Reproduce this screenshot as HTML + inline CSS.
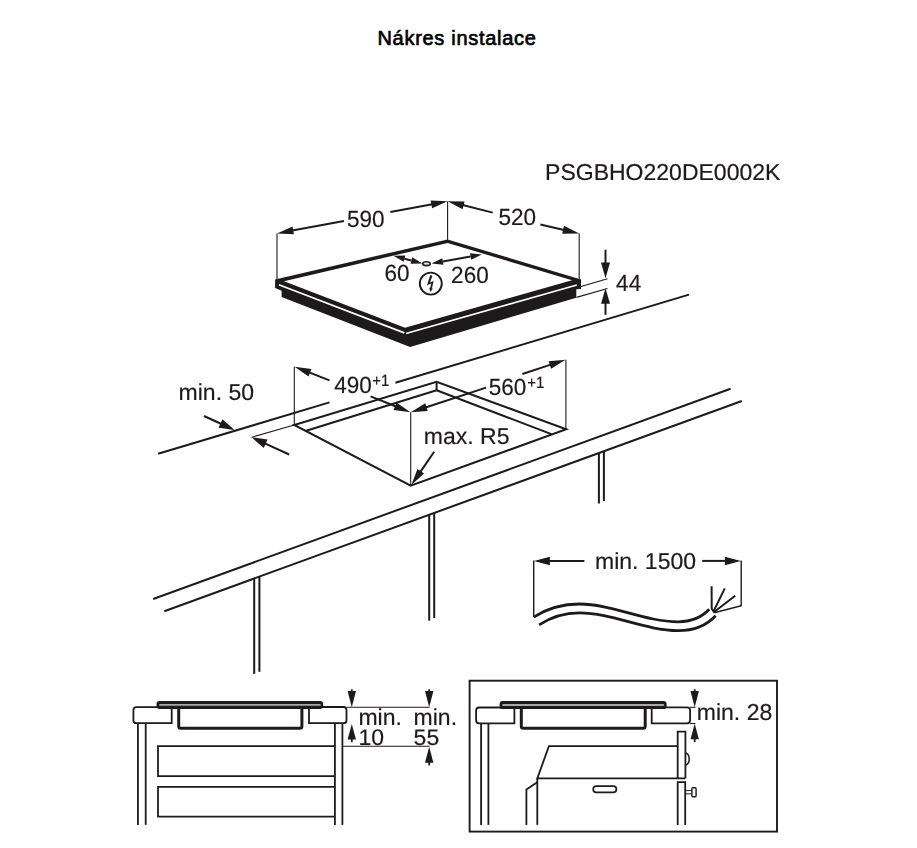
<!DOCTYPE html>
<html lang="cs">
<head>
<meta charset="utf-8">
<title>Nákres instalace</title>
<style>
html,body{margin:0;padding:0;background:#fff;}
body{width:917px;height:848px;overflow:hidden;position:relative;font-family:"Liberation Sans",sans-serif;}
h1{position:absolute;left:0;top:26px;width:917px;margin:0;text-align:center;font-family:"Liberation Sans",sans-serif;font-weight:normal;-webkit-text-stroke:0.65px #000;font-size:20px;line-height:24px;color:#000;letter-spacing:0.7px;transform:translateX(-1.5px);}
svg{position:absolute;left:0;top:0;display:block;filter:blur(0.45px);}
svg text{font-family:"Liberation Sans",sans-serif;fill:#1e1a1b;stroke:#1e1a1b;stroke-width:0.18px;text-rendering:geometricPrecision;}
</style>
</head>
<body>
<h1>Nákres instalace</h1>
<svg width="917" height="848" viewBox="0 0 917 848">
<text transform="translate(545.10,179.90)" font-size="23" text-anchor="start" >PSGBHO220DE0002K</text>
<line x1="277.00" y1="233.40" x2="277.00" y2="280.00" stroke="#1e1a1b" stroke-width="1.1" stroke-linecap="butt"/>
<line x1="447.60" y1="201.30" x2="447.60" y2="240.50" stroke="#1e1a1b" stroke-width="1.1" stroke-linecap="butt"/>
<line x1="579.20" y1="233.40" x2="579.20" y2="280.00" stroke="#1e1a1b" stroke-width="1.1" stroke-linecap="butt"/>
<polygon points="275.10,279.50 447.60,239.40 581.00,279.50 581.00,288.90 576.30,289.30 576.30,297.70 410.10,346.90 281.60,296.90 281.60,290.70 275.10,288.00" fill="#1e1a1b"/>
<polygon points="284.00,281.20 447.60,242.90 572.00,280.20 405.00,327.80" fill="#fff"/>
<line x1="278.90" y1="284.80" x2="404.30" y2="332.90" stroke="#fff" stroke-width="1.7" stroke-linecap="butt"/>
<line x1="406.00" y1="333.50" x2="576.80" y2="285.00" stroke="#fff" stroke-width="1.7" stroke-linecap="butt"/>
<polygon points="277.00,233.40 292.49,226.44 293.95,234.31" fill="#1e1a1b"/>
<line x1="344.00" y1="220.90" x2="292.24" y2="230.56" stroke="#1e1a1b" stroke-width="2.0" stroke-linecap="butt"/>
<polygon points="447.60,201.30 432.13,208.29 430.64,200.43" fill="#1e1a1b"/>
<line x1="390.40" y1="212.10" x2="432.37" y2="204.18" stroke="#1e1a1b" stroke-width="2.0" stroke-linecap="butt"/>
<text transform="translate(365.70,227.40) scale(0.98,1.02)" font-size="23" text-anchor="middle" >590</text>
<polygon points="447.60,201.30 464.58,201.43 462.63,209.19" fill="#1e1a1b"/>
<line x1="492.70" y1="212.60" x2="462.64" y2="205.07" stroke="#1e1a1b" stroke-width="2.0" stroke-linecap="butt"/>
<polygon points="579.20,233.40 562.22,233.65 563.99,225.85" fill="#1e1a1b"/>
<line x1="540.40" y1="224.60" x2="564.08" y2="229.97" stroke="#1e1a1b" stroke-width="2.0" stroke-linecap="butt"/>
<text transform="translate(517.30,224.90) scale(0.98,1.02)" font-size="23" text-anchor="middle" >520</text>
<ellipse cx="426.5" cy="263.7" rx="3.7" ry="1.9" fill="#e4e4e4" stroke="#1e1a1b" stroke-width="1.6"/>
<polygon points="393.40,255.80 405.35,255.56 403.71,261.85" fill="#1e1a1b"/>
<polygon points="422.50,263.40 410.55,263.64 412.19,257.35" fill="#1e1a1b"/>
<line x1="404.53" y1="258.71" x2="411.37" y2="260.49" stroke="#1e1a1b" stroke-width="2.0" stroke-linecap="butt"/>
<polygon points="431.50,263.60 442.23,258.34 443.40,264.73" fill="#1e1a1b"/>
<polygon points="481.90,254.40 471.17,259.66 470.00,253.27" fill="#1e1a1b"/>
<line x1="442.81" y1="261.53" x2="470.59" y2="256.47" stroke="#1e1a1b" stroke-width="2.0" stroke-linecap="butt"/>
<text transform="translate(397.00,281.10) scale(0.98,1.02)" font-size="23" text-anchor="middle" >60</text>
<text transform="translate(469.90,282.50) scale(0.98,1.02)" font-size="23" text-anchor="middle" >260</text>
<circle cx="430.8" cy="283.6" r="11.0" fill="none" stroke="#1e1a1b" stroke-width="1.9"/>
<polygon points="430.30,275.00 432.40,275.70 430.00,282.50 433.60,280.90 431.90,288.50 430.20,288.10 431.30,283.40 427.00,285.30" fill="#1e1a1b"/>
<polygon points="429.20,287.70 432.80,288.60 430.50,292.00" fill="#1e1a1b"/>
<polygon points="605.50,278.20 601.00,262.60 610.00,262.60" fill="#1e1a1b"/>
<line x1="605.50" y1="249.70" x2="605.50" y2="263.60" stroke="#1e1a1b" stroke-width="2.0" stroke-linecap="butt"/>
<polygon points="605.50,288.20 610.00,303.80 601.00,303.80" fill="#1e1a1b"/>
<line x1="605.50" y1="314.80" x2="605.50" y2="302.80" stroke="#1e1a1b" stroke-width="2.0" stroke-linecap="butt"/>
<line x1="581.00" y1="286.50" x2="607.50" y2="278.70" stroke="#1e1a1b" stroke-width="1.1" stroke-linecap="butt"/>
<line x1="576.50" y1="297.40" x2="607.50" y2="288.50" stroke="#1e1a1b" stroke-width="1.1" stroke-linecap="butt"/>
<text transform="translate(616.10,291.20) scale(0.98,1.02)" font-size="23" text-anchor="start" >44</text>
<line x1="158.10" y1="453.80" x2="329.50" y2="402.40" stroke="#1e1a1b" stroke-width="2.0" stroke-linecap="butt"/>
<line x1="395.40" y1="382.70" x2="689.00" y2="294.60" stroke="#1e1a1b" stroke-width="2.0" stroke-linecap="butt"/>
<line x1="153.20" y1="599.00" x2="730.60" y2="388.70" stroke="#1e1a1b" stroke-width="2.0" stroke-linecap="butt"/>
<line x1="164.30" y1="611.20" x2="741.80" y2="401.00" stroke="#1e1a1b" stroke-width="2.0" stroke-linecap="butt"/>
<line x1="254.20" y1="578.48" x2="254.20" y2="673.90" stroke="#1e1a1b" stroke-width="2.0" stroke-linecap="butt"/>
<line x1="259.40" y1="576.59" x2="259.40" y2="671.80" stroke="#1e1a1b" stroke-width="2.0" stroke-linecap="butt"/>
<line x1="429.20" y1="514.78" x2="429.20" y2="620.70" stroke="#1e1a1b" stroke-width="2.0" stroke-linecap="butt"/>
<line x1="434.20" y1="512.96" x2="434.20" y2="618.10" stroke="#1e1a1b" stroke-width="2.0" stroke-linecap="butt"/>
<line x1="598.90" y1="453.01" x2="598.90" y2="503.50" stroke="#1e1a1b" stroke-width="2.0" stroke-linecap="butt"/>
<line x1="603.90" y1="451.19" x2="603.90" y2="501.10" stroke="#1e1a1b" stroke-width="2.0" stroke-linecap="butt"/>
<polygon points="294.30,425.00 436.60,381.80 566.20,429.20 410.70,485.70" fill="none" stroke="#1e1a1b" stroke-width="2.0" stroke-linejoin="miter"/>
<line x1="436.60" y1="381.80" x2="436.60" y2="390.30" stroke="#1e1a1b" stroke-width="2.0" stroke-linecap="butt"/>
<line x1="305.50" y1="431.00" x2="436.60" y2="390.30" stroke="#1e1a1b" stroke-width="2.0" stroke-linecap="butt"/>
<line x1="436.60" y1="390.30" x2="551.40" y2="434.10" stroke="#1e1a1b" stroke-width="2.0" stroke-linecap="butt"/>
<line x1="294.30" y1="366.70" x2="294.30" y2="425.00" stroke="#1e1a1b" stroke-width="1.1" stroke-linecap="butt"/>
<line x1="410.70" y1="412.30" x2="410.70" y2="485.70" stroke="#1e1a1b" stroke-width="1.1" stroke-linecap="butt"/>
<line x1="565.90" y1="359.80" x2="565.90" y2="429.20" stroke="#1e1a1b" stroke-width="1.1" stroke-linecap="butt"/>
<polygon points="294.60,366.70 311.42,369.01 308.50,376.45" fill="#1e1a1b"/>
<line x1="329.50" y1="380.40" x2="309.03" y2="372.36" stroke="#1e1a1b" stroke-width="2.0" stroke-linecap="butt"/>
<polygon points="410.40,412.30 393.59,409.89 396.56,402.46" fill="#1e1a1b"/>
<line x1="370.60" y1="396.40" x2="396.01" y2="406.55" stroke="#1e1a1b" stroke-width="2.0" stroke-linecap="butt"/>
<text transform="translate(334.20,393.00) scale(0.98,1.02)" font-size="23" text-anchor="start" >490</text>
<text transform="translate(372.20,385.70) scale(1.0,1.08)" font-size="15" text-anchor="start" >+1</text>
<polygon points="410.80,412.30 425.23,403.36 427.72,410.96" fill="#1e1a1b"/>
<line x1="486.10" y1="387.60" x2="425.53" y2="407.47" stroke="#1e1a1b" stroke-width="2.0" stroke-linecap="butt"/>
<polygon points="565.50,359.80 551.08,368.76 548.58,361.16" fill="#1e1a1b"/>
<line x1="522.40" y1="374.00" x2="550.78" y2="364.65" stroke="#1e1a1b" stroke-width="2.0" stroke-linecap="butt"/>
<text transform="translate(488.80,395.40) scale(0.98,1.02)" font-size="23" text-anchor="start" >560</text>
<text transform="translate(527.30,388.00) scale(1.0,1.08)" font-size="15" text-anchor="start" >+1</text>
<text transform="translate(423.80,443.90)" font-size="23" text-anchor="start" >max. R5</text>
<polygon points="411.40,484.90 417.44,469.03 424.04,473.56" fill="#1e1a1b"/>
<line x1="434.20" y1="451.70" x2="420.17" y2="472.12" stroke="#1e1a1b" stroke-width="2.0" stroke-linecap="butt"/>
<text transform="translate(178.60,399.90)" font-size="23" text-anchor="start" >min. 50</text>
<polygon points="234.60,430.00 218.57,427.78 222.44,419.32" fill="#1e1a1b"/>
<line x1="204.00" y1="416.00" x2="221.41" y2="423.97" stroke="#1e1a1b" stroke-width="2.0" stroke-linecap="butt"/>
<polygon points="251.60,437.30 267.63,439.52 263.76,447.98" fill="#1e1a1b"/>
<line x1="289.20" y1="454.50" x2="264.79" y2="443.33" stroke="#1e1a1b" stroke-width="2.0" stroke-linecap="butt"/>
<line x1="251.60" y1="437.30" x2="294.30" y2="425.00" stroke="#1e1a1b" stroke-width="1.1" stroke-linecap="butt"/>
<polygon points="533.90,560.90 549.90,556.65 549.90,565.15" fill="#1e1a1b"/>
<line x1="584.40" y1="560.90" x2="548.90" y2="560.90" stroke="#1e1a1b" stroke-width="2.0" stroke-linecap="butt"/>
<polygon points="740.90,560.90 724.90,565.15 724.90,556.65" fill="#1e1a1b"/>
<line x1="702.20" y1="560.90" x2="725.90" y2="560.90" stroke="#1e1a1b" stroke-width="2.0" stroke-linecap="butt"/>
<text transform="translate(595.00,569.00)" font-size="23" text-anchor="start" >min. 1500</text>
<line x1="533.70" y1="560.40" x2="533.70" y2="617.10" stroke="#1e1a1b" stroke-width="1.4" stroke-linecap="butt"/>
<line x1="741.20" y1="560.40" x2="741.20" y2="606.20" stroke="#1e1a1b" stroke-width="1.4" stroke-linecap="butt"/>
<path d="M533.7,617.1 C548,608 563,604 579.4,604 C612,604 645,621.8 678.1,621.8 C692,621.8 702,617 709.2,609.3" fill="none" stroke="#1e1a1b" stroke-width="2.8"/>
<path d="M539.1,624.9 C552,616.5 565,612.9 579.4,612.9 C612,612.9 645,630.6 678.1,630.6 C696,630.6 707,625 715.6,615.7" fill="none" stroke="#1e1a1b" stroke-width="2.8"/>
<polyline points="711.6,586.3 711.7,608.6 714.6,612.6" fill="none" stroke="#1e1a1b" stroke-width="2.0" stroke-linejoin="round"/>
<line x1="713.40" y1="611.60" x2="724.80" y2="588.40" stroke="#1e1a1b" stroke-width="2.0" stroke-linecap="butt"/>
<line x1="713.80" y1="612.20" x2="735.20" y2="595.80" stroke="#1e1a1b" stroke-width="2.0" stroke-linecap="butt"/>
<line x1="741.20" y1="605.80" x2="714.20" y2="612.70" stroke="#1e1a1b" stroke-width="1.4" stroke-linecap="butt"/>
<path d="M171.7,707.2 H136.4 Q133.4,707.2 133.4,710.2 V720.2 Q133.4,723.2 136.4,723.2 H171.7 Z" fill="none" stroke="#1e1a1b" stroke-width="1.8" stroke-linejoin="miter" stroke-linecap="butt"/>
<path d="M309.0,707.0 H343.5 Q346.5,707.0 346.5,710.0 V720.2 Q346.5,723.2 343.5,723.2 H309.0 Z" fill="none" stroke="#1e1a1b" stroke-width="1.8" stroke-linejoin="miter" stroke-linecap="butt"/>
<path d="M178.7,708.5 V726.2 Q178.7,728.2 180.7,728.2 H299.9 Q301.9,728.2 301.9,726.2 V708.5" fill="none" stroke="#1e1a1b" stroke-width="3.0" stroke-linejoin="miter" stroke-linecap="butt"/>
<rect x="156.5" y="700.9" width="166.70" height="8.10" rx="3.2" ry="3.2" fill="#1e1a1b"/>
<rect x="159.1" y="703.9" width="161.70" height="1.9" rx="0.9" ry="0.9" fill="#a9a9a9"/>
<line x1="137.90" y1="723.20" x2="137.90" y2="824.90" stroke="#1e1a1b" stroke-width="1.8" stroke-linecap="butt"/>
<line x1="145.70" y1="723.20" x2="145.70" y2="824.90" stroke="#1e1a1b" stroke-width="1.8" stroke-linecap="butt"/>
<line x1="334.90" y1="723.20" x2="334.90" y2="824.90" stroke="#1e1a1b" stroke-width="1.8" stroke-linecap="butt"/>
<line x1="342.40" y1="723.20" x2="342.40" y2="824.90" stroke="#1e1a1b" stroke-width="1.8" stroke-linecap="butt"/>
<path d="M334.9,746.2 H158 V776.1 H334.9" fill="none" stroke="#1e1a1b" stroke-width="1.8" stroke-linejoin="miter" stroke-linecap="butt"/>
<path d="M334.9,786.9 H158 V816.7 H334.9" fill="none" stroke="#1e1a1b" stroke-width="1.8" stroke-linejoin="miter" stroke-linecap="butt"/>
<line x1="346.50" y1="707.30" x2="429.60" y2="707.30" stroke="#1e1a1b" stroke-width="1.1" stroke-linecap="butt"/>
<line x1="342.40" y1="746.30" x2="429.60" y2="746.30" stroke="#1e1a1b" stroke-width="1.1" stroke-linecap="butt"/>
<polygon points="351.80,707.30 347.60,691.00 356.00,691.00" fill="#1e1a1b"/>
<line x1="351.80" y1="689.20" x2="351.80" y2="692.00" stroke="#1e1a1b" stroke-width="1.8" stroke-linecap="butt"/>
<polygon points="351.80,724.00 356.00,739.50 347.60,739.50" fill="#1e1a1b"/>
<line x1="351.80" y1="742.20" x2="351.80" y2="738.50" stroke="#1e1a1b" stroke-width="1.8" stroke-linecap="butt"/>
<polygon points="429.20,707.30 425.00,691.00 433.40,691.00" fill="#1e1a1b"/>
<line x1="429.20" y1="689.20" x2="429.20" y2="692.00" stroke="#1e1a1b" stroke-width="1.8" stroke-linecap="butt"/>
<polygon points="429.20,746.80 433.40,762.80 425.00,762.80" fill="#1e1a1b"/>
<line x1="429.20" y1="765.40" x2="429.20" y2="761.80" stroke="#1e1a1b" stroke-width="1.8" stroke-linecap="butt"/>
<text transform="translate(358.40,725.20)" font-size="23" text-anchor="start" >min.</text>
<text transform="translate(358.40,744.50) scale(1.0,0.98)" font-size="23" text-anchor="start" >10</text>
<text transform="translate(413.60,725.20)" font-size="23" text-anchor="start" >min.</text>
<text transform="translate(413.60,744.50) scale(1.0,0.98)" font-size="23" text-anchor="start" >55</text>
<rect x="469.6" y="680.7" width="307.40" height="150.90" fill="none" stroke="#1e1a1b" stroke-width="1.9"/>
<path d="M514.4,707.5 H479.1 Q476.1,707.5 476.1,710.5 V720.3 Q476.1,723.3 479.1,723.3 H514.4 Z" fill="none" stroke="#1e1a1b" stroke-width="1.8" stroke-linejoin="miter" stroke-linecap="butt"/>
<path d="M651.7,707.3 H687.1 Q690.1,707.3 690.1,710.3 V720.3 Q690.1,723.3 687.1,723.3 H651.7 Z" fill="none" stroke="#1e1a1b" stroke-width="1.8" stroke-linejoin="miter" stroke-linecap="butt"/>
<path d="M521.3,708.5 V726.3 Q521.3,728.3 523.3,728.3 H643.2 Q645.2,728.3 645.2,726.3 V708.5" fill="none" stroke="#1e1a1b" stroke-width="3.0" stroke-linejoin="miter" stroke-linecap="butt"/>
<rect x="499.6" y="701.1" width="167.00" height="8.00" rx="3.2" ry="3.2" fill="#1e1a1b"/>
<rect x="502.20000000000005" y="704.1" width="162.00" height="1.9" rx="0.9" ry="0.9" fill="#a9a9a9"/>
<line x1="481.10" y1="723.30" x2="481.10" y2="824.90" stroke="#1e1a1b" stroke-width="1.8" stroke-linecap="butt"/>
<line x1="488.40" y1="723.30" x2="488.40" y2="824.90" stroke="#1e1a1b" stroke-width="1.8" stroke-linecap="butt"/>
<path d="M677.7,746.2 H548.9 L537.3,778.4 H685.2" fill="none" stroke="#1e1a1b" stroke-width="1.8" stroke-linejoin="miter" stroke-linecap="butt"/>
<line x1="537.30" y1="778.40" x2="537.30" y2="824.90" stroke="#1e1a1b" stroke-width="1.8" stroke-linecap="butt"/>
<path d="M537.3,782.2 L526.4,789.6 V824.9" fill="none" stroke="#1e1a1b" stroke-width="1.8" stroke-linejoin="miter" stroke-linecap="butt"/>
<path d="M677.7,778.4 V731.6 H685.4 V778.4" fill="none" stroke="#1e1a1b" stroke-width="1.8" stroke-linejoin="miter" stroke-linecap="butt"/>
<path d="M677.7,824.9 V782.2 H685.2 V824.9" fill="none" stroke="#1e1a1b" stroke-width="1.8" stroke-linejoin="miter" stroke-linecap="butt"/>
<path d="M685.6,753.0 C690.4,754.2 690.4,763.8 685.6,765.0" fill="none" stroke="#1e1a1b" stroke-width="1.5" stroke-linejoin="miter" stroke-linecap="butt"/>
<rect x="593.2" y="786.1" width="23.2" height="6.2" rx="3.1" ry="3.1" fill="none" stroke="#1e1a1b" stroke-width="1.7"/>
<path d="M685.6,790.6 H691.8 M685.6,793.8 H691.8" fill="none" stroke="#1e1a1b" stroke-width="1.0" stroke-linejoin="miter" stroke-linecap="butt"/>
<rect x="691.9" y="787.8" width="4.2" height="9.0" rx="1" ry="1" fill="none" stroke="#1e1a1b" stroke-width="1.4"/>
<line x1="690.10" y1="707.30" x2="695.40" y2="707.30" stroke="#1e1a1b" stroke-width="1.1" stroke-linecap="butt"/>
<line x1="690.10" y1="723.50" x2="695.40" y2="723.50" stroke="#1e1a1b" stroke-width="1.1" stroke-linecap="butt"/>
<polygon points="694.70,707.30 690.50,691.00 698.90,691.00" fill="#1e1a1b"/>
<line x1="694.70" y1="689.20" x2="694.70" y2="692.00" stroke="#1e1a1b" stroke-width="1.8" stroke-linecap="butt"/>
<polygon points="694.70,723.80 698.90,739.30 690.50,739.30" fill="#1e1a1b"/>
<line x1="694.70" y1="742.10" x2="694.70" y2="738.30" stroke="#1e1a1b" stroke-width="1.8" stroke-linecap="butt"/>
<text transform="translate(696.80,720.30)" font-size="23" text-anchor="start" >min. 28</text>
</svg>
</body>
</html>
